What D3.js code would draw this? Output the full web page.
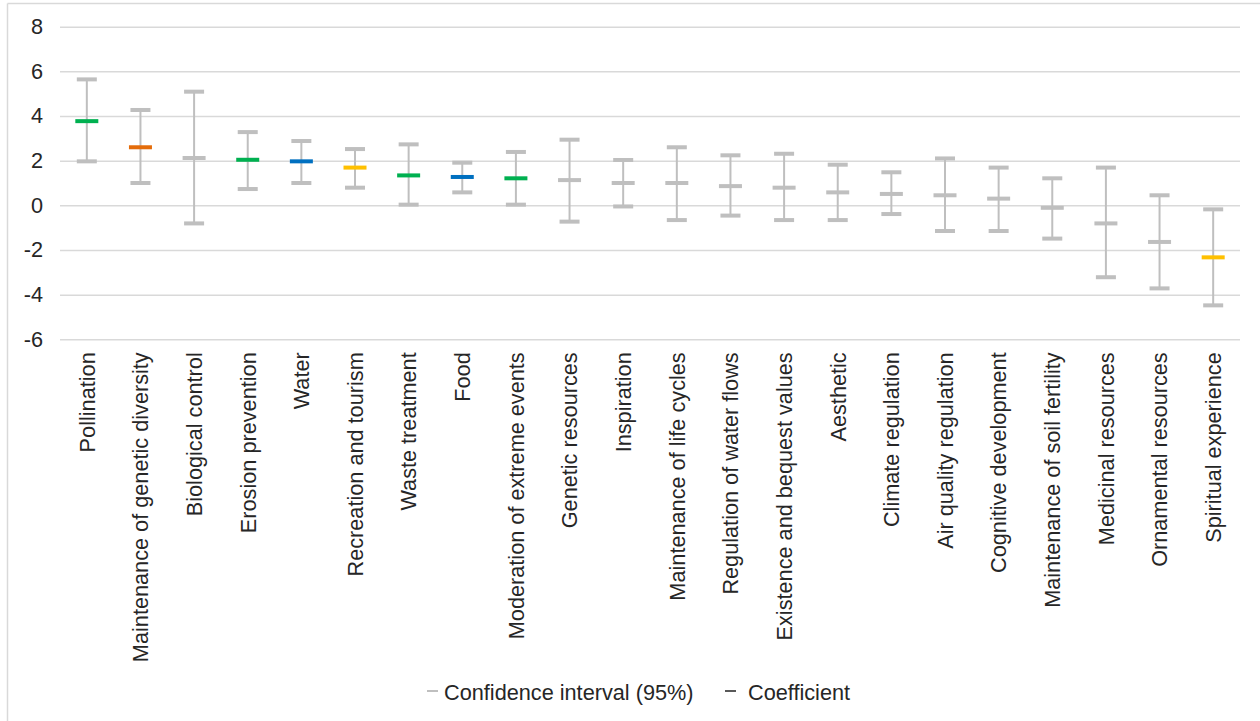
<!DOCTYPE html>
<html>
<head>
<meta charset="utf-8">
<script src="https://cdn.jsdelivr.net/npm/d3@7/dist/d3.min.js"></script>
<style>
  html, body { margin: 0; padding: 0; background: #ffffff; }
  svg { display: block; }
  text { font-family: "Liberation Sans", Arial, sans-serif; fill: #262626; }
</style>
</head>
<body>
<svg id="chart" width="1260" height="721"></svg>
<script>
// Ecosystem services ranked by estimated coefficient, with 95% confidence bounds
const services = [
  "Pollination", "Maintenance of genetic diversity", "Biological control",
  "Erosion prevention", "Water", "Recreation and tourism", "Waste treatment",
  "Food", "Moderation of extreme events", "Genetic resources", "Inspiration",
  "Maintenance of life cycles", "Regulation of water flows",
  "Existence and bequest values", "Aesthetic", "Climate regulation",
  "Air quality regulation", "Cognitive development",
  "Maintenance of soil fertility", "Medicinal resources",
  "Ornamental resources", "Spiritual experience"
];
const serviceGroup = [
  "Regulating", "Habitat", "Regulating", "Regulating", "Provisioning",
  "Cultural", "Regulating", "Provisioning", "Regulating", "Provisioning",
  "Cultural", "Habitat", "Regulating", "Cultural", "Cultural", "Regulating",
  "Regulating", "Cultural", "Regulating", "Provisioning", "Provisioning",
  "Cultural"
];
const coefficient = [
  3.77, 2.60, 2.12, 2.04, 1.97, 1.69, 1.34, 1.27, 1.21, 1.13, 1.00,
  1.00, 0.86, 0.79, 0.58, 0.51, 0.45, 0.30, -0.11, -0.81, -1.64, -2.33
];
const ciUpper = [
  5.64, 4.27, 5.09, 3.28, 2.88, 2.52, 2.73, 1.91, 2.39, 2.94, 2.03,
  2.60, 2.24, 2.31, 1.82, 1.48, 2.10, 1.69, 1.21, 1.69, 0.45, -0.18
];
const ciLower = [
  1.97, 1.00, -0.81, 0.73, 1.00, 0.79, 0.03, 0.58, 0.03, -0.73, -0.05,
  -0.66, -0.46, -0.66, -0.66, -0.39, -1.15, -1.15, -1.49, -3.22, -3.72, -4.48
];
const yTicks = [-6, -4, -2, 0, 2, 4, 6, 8];
const legendLabels = ["Confidence interval (95%)", "Coefficient"];

const rows = services.map((name, i) => ({
  name,
  group: serviceGroup[i],
  coef: coefficient[i],
  hi: ciUpper[i],
  lo: ciLower[i]
}));

const svg = d3.select("#chart");
const W = 1260, H = 721;
const plot = { left: 60, right: 1240, top: 26.7, bottom: 339.3 };
const fontSize = 21.7;

const gridColor = "#d9d9d9";
const ciColor = "#bfbfbf";
// Significant coefficients take their service group's colour; others stay grey
const groupColor = d3.scaleOrdinal()
  .domain(["Regulating", "Habitat", "Provisioning", "Cultural"])
  .range(["#00b050", "#e46c0a", "#0070c0", "#ffc000"]);
const markColor = d => (d.lo > 0 || d.hi < 0) ? groupColor(d.group) : ciColor;

const x = d3.scaleBand().domain(services).range([plot.left, plot.right]);
const y = d3.scaleLinear().domain([-6, 8]).range([plot.bottom, plot.top]);

// outer frame (left and top edges)
svg.append("line").attr("x1", 7.5).attr("x2", 7.5).attr("y1", 3.5).attr("y2", H)
  .attr("stroke", gridColor).attr("stroke-width", 1.5);
svg.append("line").attr("x1", 7.5).attr("x2", W).attr("y1", 3.5).attr("y2", 3.5)
  .attr("stroke", gridColor).attr("stroke-width", 1.5);

// horizontal gridlines and value labels (plain hyphen for negatives)
const yAxis = d3.axisLeft(y).tickValues(yTicks).tickSize(-(plot.right - plot.left))
  .tickPadding(17).tickFormat(d => String(d));
const gy = svg.append("g").attr("transform", `translate(${plot.left},0)`).call(yAxis);
gy.select(".domain").remove();
gy.selectAll(".tick line").attr("stroke", gridColor).attr("stroke-width", 1.5);
gy.selectAll(".tick text")
  .attr("font-size", fontSize).attr("fill", "#262626")
  .attr("font-family", "Liberation Sans, Arial, sans-serif");

// category labels, rotated
const xAxis = d3.axisBottom(x).tickSize(0).tickPadding(0);
const gx = svg.append("g").attr("transform", `translate(0,${plot.bottom})`).call(xAxis);
gx.select(".domain").remove();
gx.selectAll(".tick text")
  .attr("font-size", fontSize).attr("fill", "#262626")
  .attr("font-family", "Liberation Sans, Arial, sans-serif")
  .attr("text-anchor", "end")
  .attr("transform", "rotate(-90)")
  .attr("x", -13).attr("y", 0).attr("dy", "0.36em");

// confidence intervals
const cx = d => x(d.name) + x.bandwidth() / 2;
const capW = 20, coefW = 23, barH = 4;
const ci = svg.append("g");
ci.selectAll("line.stem").data(rows).join("line")
  .attr("class", "stem")
  .attr("x1", cx).attr("x2", cx)
  .attr("y1", d => y(d.hi)).attr("y2", d => y(d.lo))
  .attr("stroke", ciColor).attr("stroke-width", 2);
ci.selectAll("rect.capHi").data(rows).join("rect")
  .attr("class", "capHi")
  .attr("x", d => cx(d) - capW / 2).attr("width", capW)
  .attr("y", d => y(d.hi) - barH / 2).attr("height", barH)
  .attr("fill", ciColor);
ci.selectAll("rect.capLo").data(rows).join("rect")
  .attr("class", "capLo")
  .attr("x", d => cx(d) - capW / 2).attr("width", capW)
  .attr("y", d => y(d.lo) - barH / 2).attr("height", barH)
  .attr("fill", ciColor);

// coefficient marks
svg.append("g").selectAll("rect").data(rows).join("rect")
  .attr("x", d => cx(d) - coefW / 2).attr("width", coefW)
  .attr("y", d => y(d.coef) - barH / 2).attr("height", barH)
  .attr("fill", markColor);

// legend
const legend = svg.append("g");
const legendItems = [
  { label: legendLabels[0], color: ciColor, x0: 427, tx: 444 },
  { label: legendLabels[1], color: "#595959", x0: 725, tx: 748 }
];
legendItems.forEach(it => {
  legend.append("line").attr("x1", it.x0).attr("x2", it.x0 + 11)
    .attr("y1", 691).attr("y2", 691)
    .attr("stroke", it.color).attr("stroke-width", 2);
  legend.append("text").attr("x", it.tx).attr("y", 700)
    .attr("font-size", fontSize).text(it.label);
});
</script>
</body>
</html>
